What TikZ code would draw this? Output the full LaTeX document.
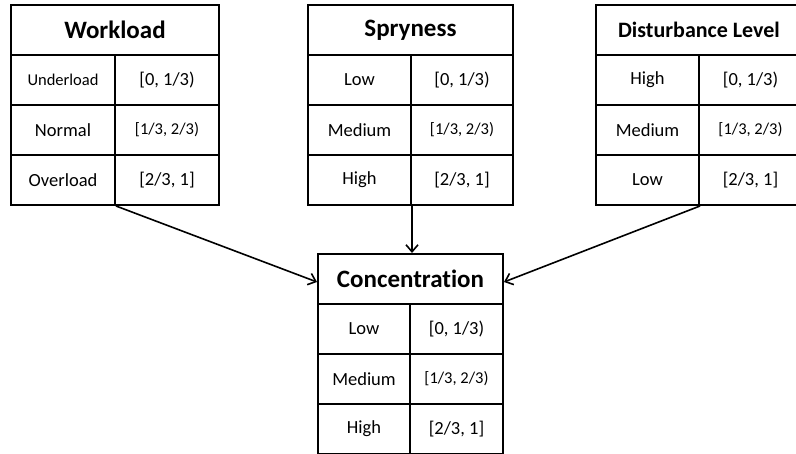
\documentclass[tikz,border=0pt]{standalone}
\usepackage{fontspec}
\setmainfont{Carlito}[Ligatures=NoCommon]
\usetikzlibrary{arrows.meta}

\tikzset{
  cell/.style={draw, line width=2pt, inner sep=0pt, anchor=north west,
    minimum height=50pt, font=\fontsize{18.5}{20}\selectfont},
  small/.style={font=\fontsize{16.5}{18}\selectfont},
  head/.style={cell, font=\fontsize{25}{27}\selectfont\bfseries},
  link/.style={line width=1.6pt, -{Straight Barb[length=7pt,width=12pt,line width=1.6pt]}}
}

\begin{document}
\begin{tikzpicture}[x=1pt, y=-1pt]
  \useasboundingbox (0,0) rectangle (796,454);
  \begin{scope}
    \clip (0,0) rectangle (796,454);

    % Workload
    \node[head, minimum width=208pt] (wl) at (10,4) {Workload};
    \node[cell, small, minimum width=104pt] (wl1a) at (10,54) {Underload};
    \node[cell, minimum width=104pt] (wl1b) at (114,54) {[0, 1/3)};
    \node[cell, minimum width=104pt] (wl2a) at (10,104) {Normal};
    \node[cell, small, minimum width=104pt] (wl2b) at (114,104) {[1/3, 2/3)};
    \node[cell, minimum width=104pt] (wl3a) at (10,154) {Overload};
    \node[cell, minimum width=104pt] (wl3b) at (114,154) {[2/3, 1]};

    % Spryness
    \node[head, minimum width=205pt] (sp) at (307,4) {Spryness};
    \node[cell, minimum width=103pt] (sp1a) at (307,54) {Low};
    \node[cell, minimum width=102pt] (sp1b) at (410,54) {[0, 1/3)};
    \node[cell, minimum width=103pt] (sp2a) at (307,104) {Medium};
    \node[cell, small, minimum width=102pt] (sp2b) at (410,104) {[1/3, 2/3)};
    \node[cell, minimum width=103pt] (sp3a) at (307,154) {High};
    \node[cell, minimum width=102pt] (sp3b) at (410,154) {[2/3, 1]};

    % Disturbance Level
    \node[head, minimum width=206pt, font=\fontsize{22}{24}\selectfont\bfseries] (dl) at (595,4) {Disturbance Level};
    \node[cell, minimum width=103pt] (dl1a) at (595,54) {High};
    \node[cell, minimum width=103pt] (dl1b) at (698,54) {[0, 1/3)};
    \node[cell, minimum width=103pt] (dl2a) at (595,104) {Medium};
    \node[cell, small, minimum width=103pt] (dl2b) at (698,104) {[1/3, 2/3)};
    \node[cell, minimum width=103pt] (dl3a) at (595,154) {Low};
    \node[cell, minimum width=103pt] (dl3b) at (698,154) {[2/3, 1]};

    % Concentration
    \node[head, minimum width=185pt] (co) at (317,253) {Concentration};
    \node[cell, minimum width=92pt] (co1a) at (317,303) {Low};
    \node[cell, minimum width=93pt] (co1b) at (409,303) {[0, 1/3)};
    \node[cell, minimum width=92pt] (co2a) at (317,353) {Medium};
    \node[cell, small, minimum width=93pt] (co2b) at (409,353) {[1/3, 2/3)};
    \node[cell, minimum width=92pt] (co3a) at (317,403) {High};
    \node[cell, minimum width=93pt] (co3b) at (409,403) {[2/3, 1]};
  \end{scope}

  % connectors into the result table
  \draw[link] (wl3a.south east) -- ([yshift=-3pt]co.west);
  \draw[link] (sp3a.south east) -- (sp3a.south east |- co.north);
  \draw[link] (dl3a.south east) -- ([yshift=-3pt]co.east);
\end{tikzpicture}
\end{document}
